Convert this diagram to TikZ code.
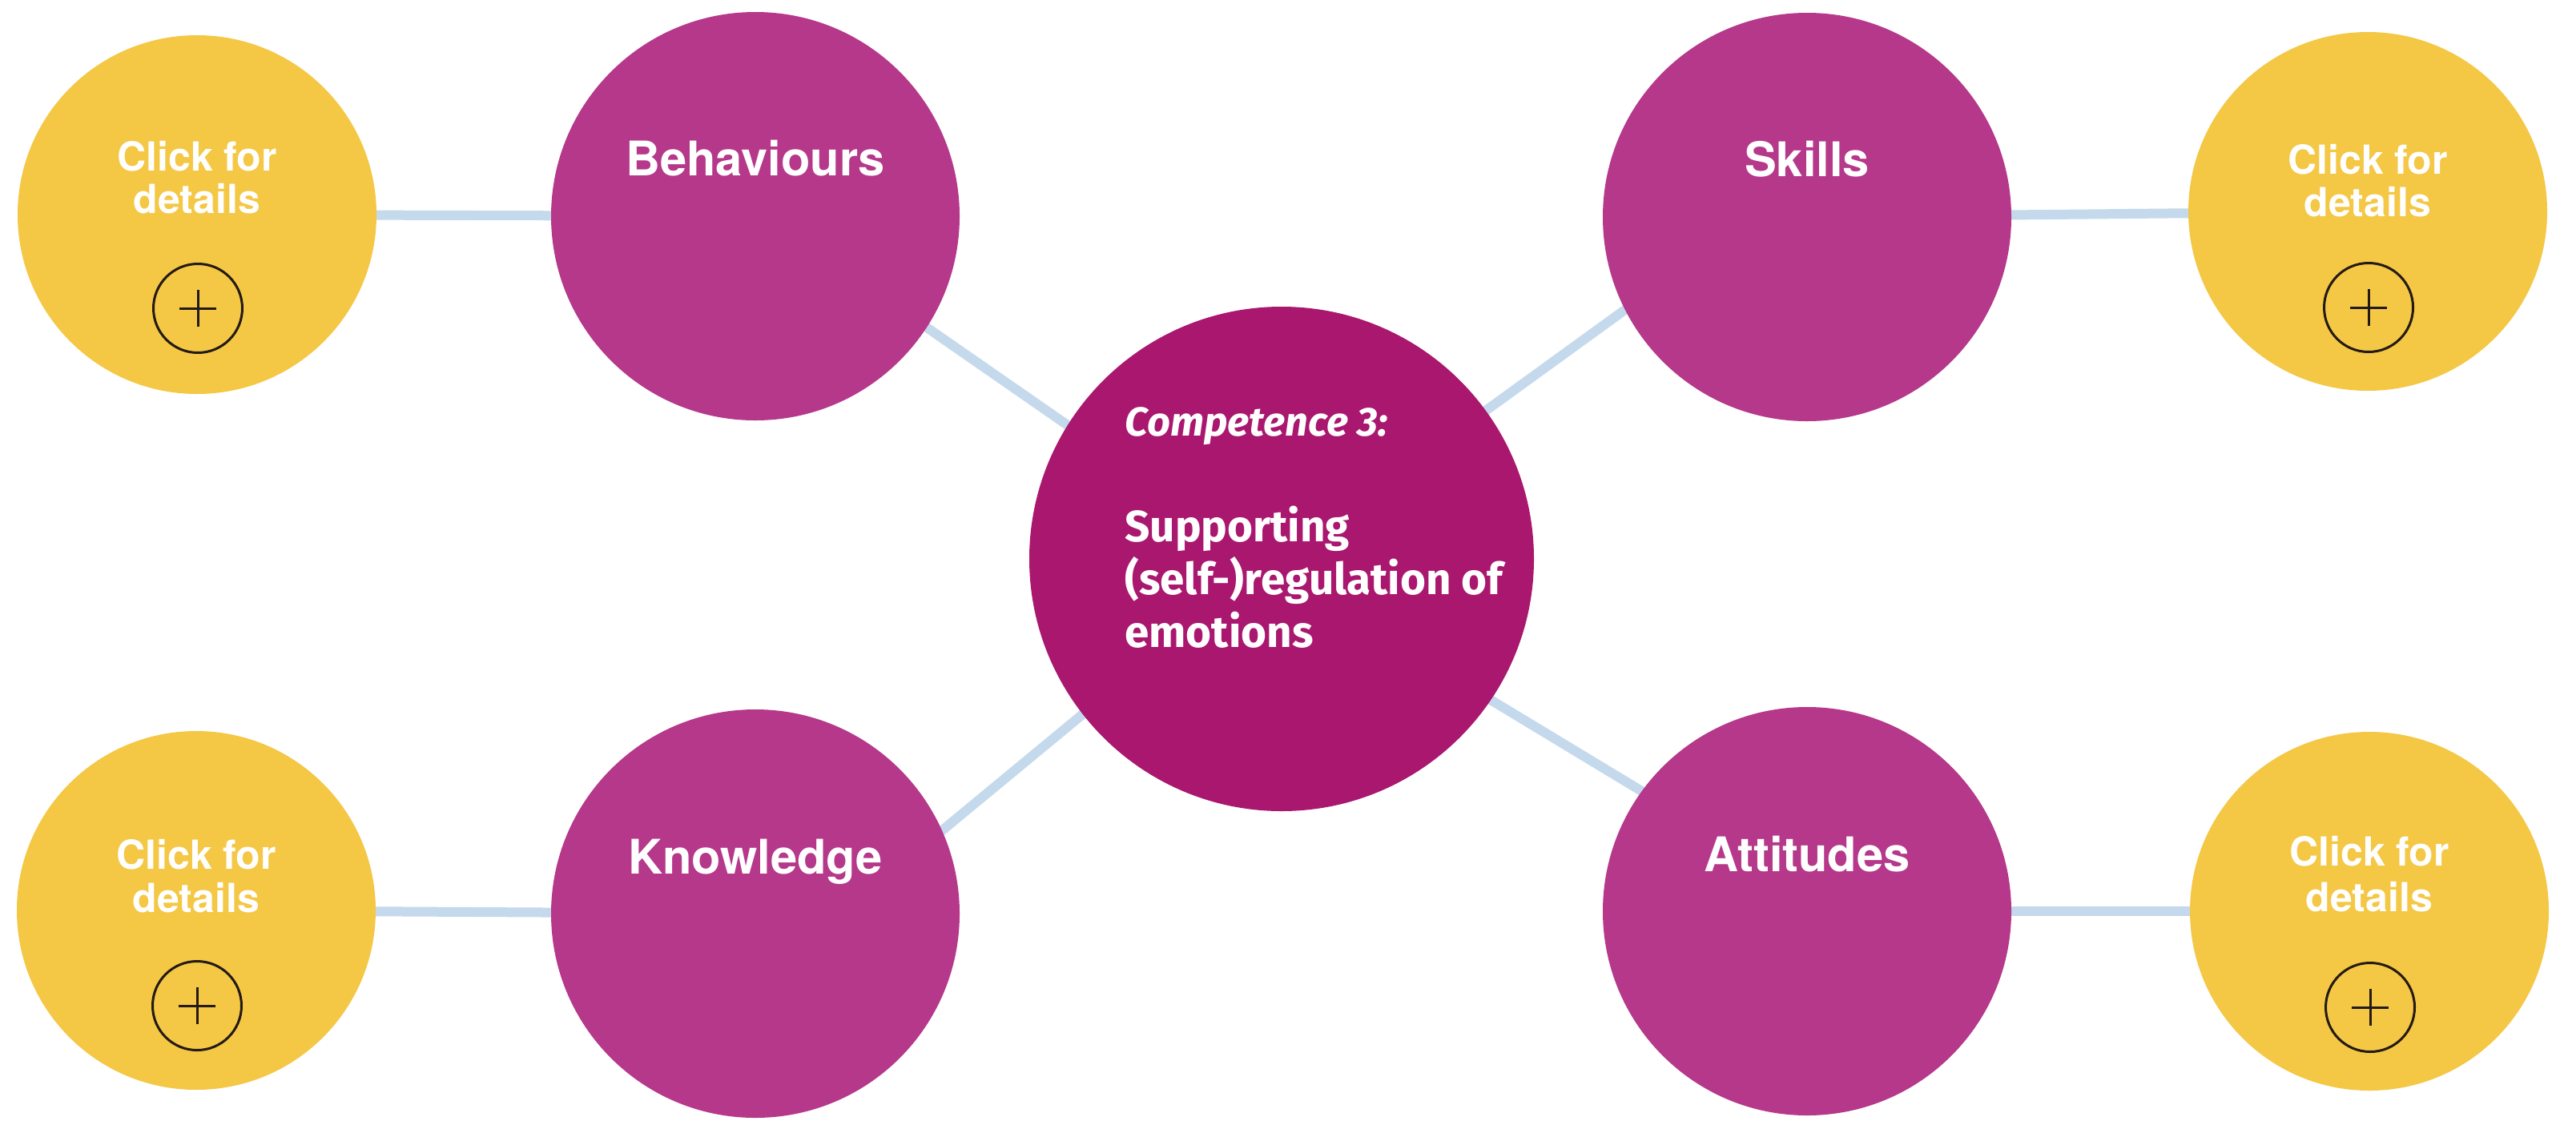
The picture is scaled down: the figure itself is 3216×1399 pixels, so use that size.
\documentclass[tikz,border=0pt]{standalone}
\usepackage{fontspec}
\newfontfamily\heros{TeX Gyre Heros}
\newfontfamily\fira{Fira Sans}
\usetikzlibrary{calc,backgrounds}
\definecolor{ycol}{HTML}{F4C744}
\definecolor{mcol}{HTML}{B5388A}
\definecolor{ccol}{HTML}{A9176F}
\definecolor{lcol}{HTML}{C5D9EC}
\definecolor{pcol}{HTML}{231A14}
\begin{document}
\begin{tikzpicture}[x=0.5pt,y=-0.5pt,
  ybub/.style={circle,fill=ycol,minimum size=224pt,inner sep=0pt,outer sep=0pt},
  mbub/.style={circle,fill=mcol,minimum size=255pt,inner sep=0pt,outer sep=0pt},
  cbub/.style={circle,fill=ccol,minimum size=315pt,inner sep=0pt,outer sep=0pt},
  conn/.style={draw=lcol,line width=6pt,line cap=round},
  lbl/.style={text=white,font=\heros\bfseries\fontsize{29.8}{35}\selectfont,inner sep=0pt,anchor=base},
  clk/.style={text=white,font=\heros\bfseries\fontsize{25}{30}\selectfont,inner sep=0pt,anchor=base},
  plusc/.style={circle,draw=pcol,line width=1.5pt,minimum size=55.5pt,inner sep=0pt},
  plusl/.style={draw=pcol,line width=1.5pt},
  ctxt/.style={text=white,inner sep=0pt}
]
\useasboundingbox (0,0) rectangle (3216,1399);
% main circles
\node[ybub] (yTL) at (246,268) {};
\node[mbub] (beh) at (943,270) {};
\node[cbub] (comp) at (1600,698) {};
\node[mbub] (skills) at (2256,271) {};
\node[ybub] (yTR) at (2956,264) {};
\node[ybub] (yBL) at (245,1137) {};
\node[mbub] (know) at (943,1141) {};
\node[mbub] (att) at (2256,1138) {};
\node[ybub] (yBR) at (2958,1138) {};
% connectors
\begin{pgfonlayer}{background}
\fill[white] (0,0) rectangle (3216,1399);
\draw[conn] (yTL) -- (beh);
\draw[conn] (skills) -- (yTR);
\draw[conn] (yBL) -- (know);
\draw[conn] (att) -- (yBR);
\draw[conn] (beh.-33.5) -- (comp.148);
\draw[conn] (know.24.8) -- (comp.218.9);
\draw[conn] (comp.36.5) -- (skills.207.3);
\draw[conn] (comp.-34.6) -- (att.144);
\end{pgfonlayer}
% labels
\node[lbl] (tbeh) at ($(beh)+(0,-51)$) {Behaviours};
\node[lbl] (tskills) at ($(skills)+(0,-51)$) {Skills};
\node[lbl] (tknow) at ($(know)+(0,-50)$) {Knowledge};
\node[lbl] (tatt) at ($(att)+(0,-50)$) {Attitudes};
% yellow texts and plus signs
\foreach \y/\n/\ta/\tb/\pp in {yTL/a/-55/-2/117, yTR/b/-47/6/120, yBL/c/-52/2/119, yBR/d/-57/0/120}{
  \node[clk] (c1\n) at ($(\y)+(0,\ta)$) {Click for};
  \node[clk] (c2\n) at ($(\y)+(0,\tb)$) {details};
  \node[plusc] (p\n) at ($(\y)+(1,\pp)$) {};
  \draw[plusl] ($(p\n)+(-23,0)$) -- ($(p\n)+(23,0)$);
  \draw[plusl] ($(p\n)+(0,-23)$) -- ($(p\n)+(0,23)$);
}
% centre text
\node[ctxt,anchor=base west,font=\fira\bfseries\itshape\fontsize{25.3}{32.7}\selectfont] (ctitle) at (1404,544) {Competence 3:};
\node[ctxt,anchor=base west,font=\fira\bfseries\fontsize{27.4}{32.7}\selectfont] (cbody) at (1404,676)
  {\begin{tabular}[t]{@{}l@{}}Supporting\\(self-)regulation of\\emotions\end{tabular}};
\end{tikzpicture}
\end{document}
